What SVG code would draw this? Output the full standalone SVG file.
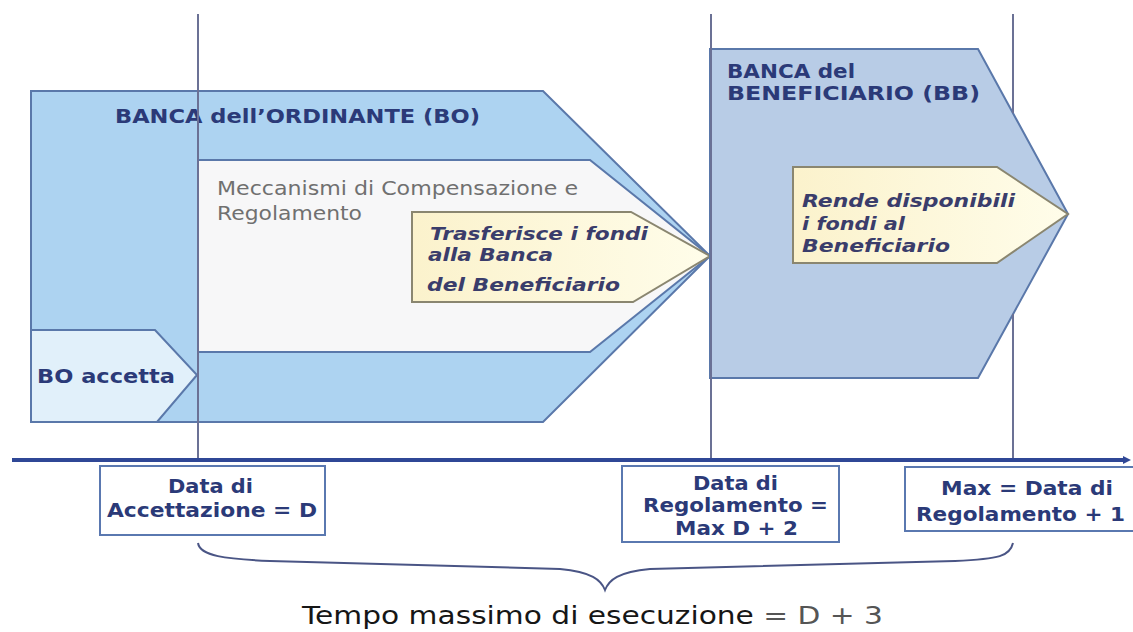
<svg xmlns="http://www.w3.org/2000/svg" width="1133" height="632" viewBox="0 0 1133 632">
  <style>
    .shape { stroke: #5a78aa; stroke-width: 2; stroke-linejoin: miter; }
    .bo { fill: #add3f1; }
    .inner { fill: #f7f7f8; }
    .bb { fill: #b8cce6; }
    .acc { fill: #e1f0fa; }
    .yel { fill: url(#yg); stroke: #8a8670; stroke-width: 2; }
    .lbl { font-family: "DejaVu Sans", Verdana, sans-serif; font-weight: bold; font-size: 19px; fill: #2b3a78; }
    .ital { font-family: "DejaVu Sans", Verdana, sans-serif; font-weight: bold; font-style: italic; font-size: 18px; fill: #3a3d6b; }
    .reg { font-family: "DejaVu Sans", Verdana, sans-serif; font-size: 19px; fill: #707070; }
    .tempo { font-family: "DejaVu Sans", Verdana, sans-serif; font-size: 25px; fill: #161616; }
    .box { fill: #ffffff; stroke: #5a78b0; stroke-width: 2; }
    .vline { stroke: #6b7195; stroke-width: 2; fill: none; }
    .axis { stroke: #2f4796; stroke-width: 4; fill: none; }
    .brace { stroke: #4a5585; stroke-width: 2; fill: none; }
  </style>
  <defs>
    <linearGradient id="yg" x1="0" y1="0" x2="1" y2="0">
      <stop offset="0" stop-color="#fbf2cc"/>
      <stop offset="1" stop-color="#fffdea"/>
    </linearGradient>
    <marker id="arrow" markerWidth="8" markerHeight="8" refX="1" refY="4" orient="auto" markerUnits="userSpaceOnUse">
      <path d="M0,0 L8,4 L0,8 Z" fill="#2f4796"/>
    </marker>
  </defs>

  <rect width="1133" height="632" fill="#ffffff"/>

  <g id="bo-bank">
    <polygon class="shape bo" points="31,91 543,91 710,256 543,422 31,422"/>
    <text class="lbl" x="115" y="123" textLength="365" lengthAdjust="spacingAndGlyphs">BANCA dell’ORDINANTE (BO)</text>
  </g>

  <g id="clearing">
    <polygon class="shape inner" points="198,160 590,160 710,256 590,352 198,352"/>
    <text class="reg" x="217" y="195" textLength="361" lengthAdjust="spacingAndGlyphs">Meccanismi di Compensazione e</text>
    <text class="reg" x="217" y="220" textLength="145" lengthAdjust="spacingAndGlyphs">Regolamento</text>
  </g>

  <g id="transfer">
    <polygon class="yel" points="412,212 631,212 710,256 633,302 412,302"/>
    <text class="ital" x="430" y="240" textLength="218" lengthAdjust="spacingAndGlyphs">Trasferisce i fondi</text>
    <text class="ital" x="428" y="261" textLength="125" lengthAdjust="spacingAndGlyphs">alla Banca</text>
    <text class="ital" x="427" y="291" textLength="193" lengthAdjust="spacingAndGlyphs">del Beneficiario</text>
  </g>

  <g id="bo-accepts">
    <polygon class="shape acc" points="31,330 155,330 197,375 157,422 31,422"/>
    <text class="lbl" x="37" y="383" textLength="138" lengthAdjust="spacingAndGlyphs">BO  accetta</text>
  </g>

  <g id="bb-bank">
    <polygon class="shape bb" points="710,49 978,49 1068,214 978,378 710,378"/>
    <text class="lbl" x="727" y="78" textLength="128" lengthAdjust="spacingAndGlyphs">BANCA del</text>
    <text class="lbl" x="727" y="100" textLength="253" lengthAdjust="spacingAndGlyphs">BENEFICIARIO (BB)</text>
  </g>

  <g id="available">
    <polygon class="yel" points="793,167 997,167 1068,214 997,263 793,263"/>
    <text class="ital" x="802" y="207" textLength="213" lengthAdjust="spacingAndGlyphs">Rende disponibili</text>
    <text class="ital" x="802" y="230" textLength="103" lengthAdjust="spacingAndGlyphs">i fondi al</text>
    <text class="ital" x="802" y="252" textLength="148" lengthAdjust="spacingAndGlyphs">Beneficiario</text>
  </g>

  <g id="connectors">
    <line class="vline" x1="198" y1="14" x2="198" y2="460"/>
    <line class="vline" x1="711" y1="14" x2="711" y2="460"/>
    <line class="vline" x1="1013" y1="14" x2="1013" y2="113"/>
    <line class="vline" x1="1013" y1="314" x2="1013" y2="460"/>
    <line class="axis" x1="12" y1="460" x2="1124" y2="460" marker-end="url(#arrow)"/>
    <path class="brace" d="M198,543 C200,556 225,559 270,561 L560,569 C592,572 601,580 605,590 C609,580 618,572 650,569 L955,561 C1000,559 1010,556 1013,543"/>
  </g>

  <g id="date-acceptance">
    <rect class="box" x="100" y="466" width="225" height="69"/>
    <text class="lbl" x="168" y="493" textLength="85" lengthAdjust="spacingAndGlyphs">Data di</text>
    <text class="lbl" x="107" y="517" textLength="210" lengthAdjust="spacingAndGlyphs">Accettazione = D</text>
  </g>

  <g id="date-settlement">
    <rect class="box" x="622" y="466" width="217" height="76"/>
    <text class="lbl" x="693" y="490" textLength="85" lengthAdjust="spacingAndGlyphs">Data di</text>
    <text class="lbl" x="643" y="512" textLength="185" lengthAdjust="spacingAndGlyphs">Regolamento =</text>
    <text class="lbl" x="675" y="535" textLength="123" lengthAdjust="spacingAndGlyphs">Max D + 2</text>
  </g>

  <g id="date-max">
    <rect class="box" x="905" y="467" width="240" height="64"/>
    <text class="lbl" x="941" y="495" textLength="172" lengthAdjust="spacingAndGlyphs">Max = Data di</text>
    <text class="lbl" x="916" y="521" textLength="209" lengthAdjust="spacingAndGlyphs">Regolamento + 1</text>
  </g>

  <g id="total-time">
    <text class="tempo" x="302" y="624" textLength="581" lengthAdjust="spacingAndGlyphs">Tempo massimo di esecuzione <tspan fill="#555555">= D + 3</tspan></text>
  </g>
</svg>
